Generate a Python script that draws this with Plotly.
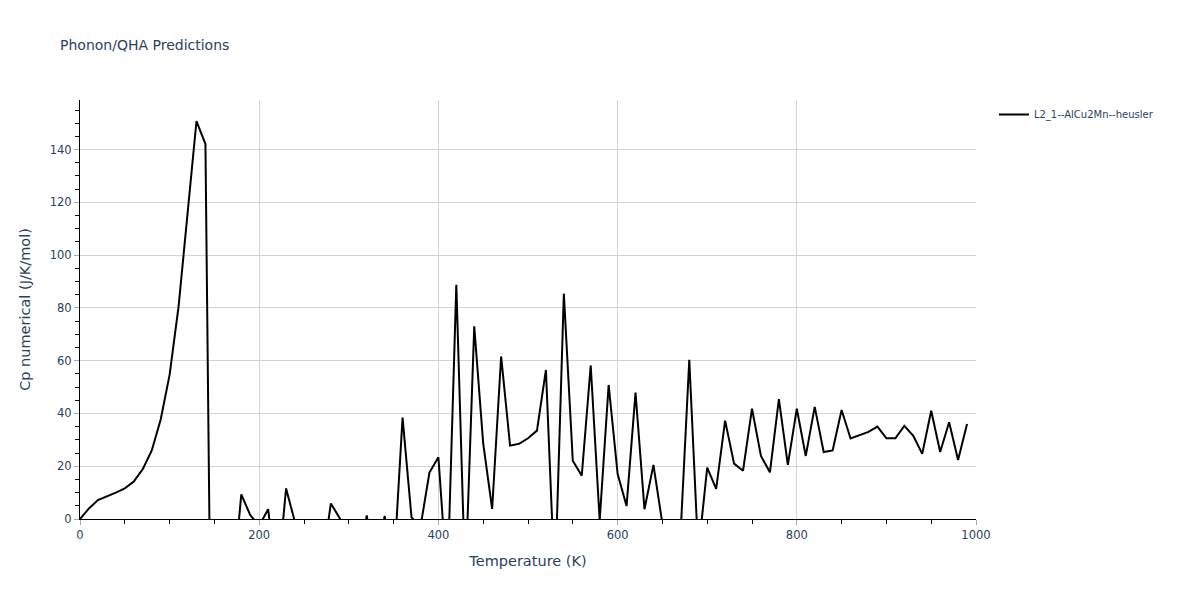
import plotly.graph_objects as go

temperature = list(range(0, 1000, 10))
cp_numerical = [
    0.0, 4.0, 7.2, 8.5, 10.0, 11.6, 14.2, 18.9, 25.9, 37.6,       # 0-90
    54.6, 80.5, 116.0, 150.8, 142.1, -180.0, -90.0, -28.0, 9.3, 1.5,  # 100-190
    -2.5, 3.7, -25.0, 11.6, -1.3, -20.0, -20.0, -17.7, 5.9, 0.2,   # 200-290
    -20.0, -20.0, 1.4, -20.0, 1.2, -19.8, 38.4, 0.6, -3.0, 17.6,   # 300-390
    23.4, -25.0, 88.8, -25.0, 73.0, 28.7, 3.8, 61.6, 27.8, 28.5,   # 400-490
    30.6, 33.5, 56.5, -26.0, 85.4, 22.1, 16.4, 58.2, -0.5, 50.8,   # 500-590
    17.1, 4.9, 47.9, 3.7, 20.5, -1.8, -15.0, -7.5, 60.3, -13.0,    # 600-690
    19.5, 11.4, 37.3, 21.0, 18.3, 41.8, 23.9, 17.7, 45.4, 20.5,    # 700-790
    41.8, 23.9, 42.5, 25.4, 26.0, 41.3, 30.5, 31.9, 33.0, 35.0,    # 800-890
    30.6, 30.6, 35.3, 31.5, 24.7, 41.0, 25.4, 36.7, 22.4, 36.0,    # 900-990
]
series_name = "L2_1--AlCu2Mn--heusler"

fig = go.Figure()
fig.add_trace(go.Scatter(
    x=temperature, y=cp_numerical, mode="lines", name=series_name,
    line=dict(color="black", width=2),
))

fig.update_layout(
    template="plotly",
    width=1200, height=600,
    font=dict(family="Verdana, DejaVu Sans, sans-serif", size=11.5, color="#2a3f5f"),
    title=dict(text="Phonon/QHA Predictions", font=dict(size=14)),
    legend=dict(font=dict(size=10)),
    plot_bgcolor="white",
    paper_bgcolor="white",
    showlegend=True,
    margin=dict(l=80, r=224, t=100, b=81, autoexpand=False),
)
fig.update_xaxes(
    title_text="Temperature (K)", title_font_size=14.5,
    range=[0, 1000], dtick=200,
    showline=True, linecolor="black", linewidth=1,
    gridcolor="lightgray", zeroline=False,
    ticks="outside", tickcolor="darkgray", ticklen=5,
    minor=dict(dtick=50, ticks="outside", ticklen=4, tickcolor="black", showgrid=False),
)
fig.update_yaxes(
    title_text="Cp numerical (J/K/mol)", title_font_size=14.5,
    range=[0, 158.8], dtick=20,
    showline=True, linecolor="black", linewidth=1,
    gridcolor="lightgray", zeroline=False,
    ticks="outside", tickcolor="darkgray", ticklen=5,
    minor=dict(dtick=5, ticks="outside", ticklen=4, tickcolor="black", showgrid=False),
)

fig.write_html(
    "out.html",
    config={"displayModeBar": False},
    post_script="document.body.style.margin='0';",
)
